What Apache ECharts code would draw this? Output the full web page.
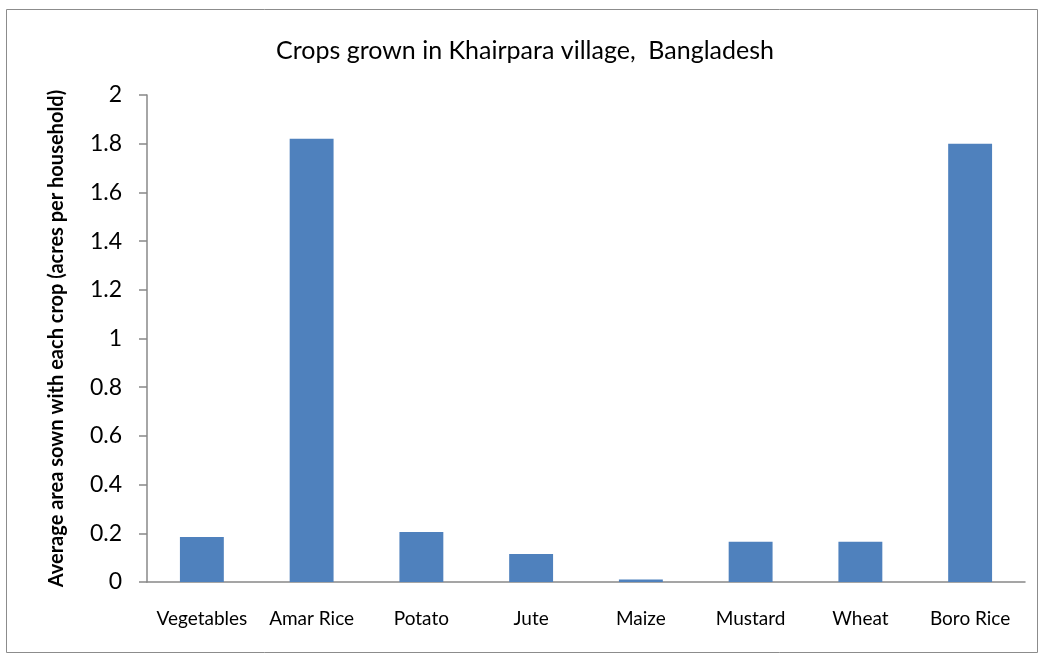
<!DOCTYPE html>
<html>
<head>
<meta charset="utf-8">
<script src="https://cdn.jsdelivr.net/npm/echarts@6/dist/echarts.min.js"></script>
<style>
  html, body { margin: 0; padding: 0; background: #fff; }
  #chart { width: 1042px; height: 657px; }
</style>
</head>
<body>
<div id="chart"></div>
<script>
// crops and average acres sown per household
const crops = ["Vegetables", "Amar Rice", "Potato", "Jute", "Maize", "Mustard", "Wheat", "Boro Rice"];
const acres = [0.185, 1.82, 0.205, 0.115, 0.01, 0.165, 0.165, 1.80];

const myChart = echarts.init(document.getElementById("chart"));
const font = "Lato, 'Open Sans', sans-serif";
let option = {
  animation: false,
  backgroundColor: "#fff",
  graphic: [
    {
      type: "rect",
      left: 4,
      top: 7,
      shape: { width: 1031, height: 643 },
      style: { fill: "none", stroke: "#8c8c8c", lineWidth: 1 }
    }
  ],
  title: {
    text: "Crops grown in Khairpara village,  Bangladesh",
    left: 520,
    top: 33,
    textAlign: "center",
    textStyle: { fontFamily: font, fontSize: 25, fontWeight: "normal", color: "#000" }
  },
  grid: { left: 147, right: 17, top: 95, bottom: 75 },
  xAxis: {
    type: "category",
    data: crops,
    axisLine: { lineStyle: { color: "#888", width: 1.5 } },
    axisTick: { length: 8, lineStyle: { color: "#888", width: 1.5 } },
    axisLabel: { interval: 0, margin: 27, fontFamily: font, fontSize: 19, color: "#000" }
  },
  yAxis: {
    type: "value",
    min: 0,
    max: 2,
    interval: 0.2,
    name: "Average area sown with each crop (acres per household)",
    nameLocation: "middle",
    nameGap: 80,
    nameTextStyle: { fontFamily: font, fontSize: 20, fontWeight: "bold", color: "#000" },
    axisLine: { show: true, lineStyle: { color: "#888", width: 1.5 } },
    axisTick: { show: true, length: 8, lineStyle: { color: "#888", width: 1.5 } },
    splitLine: { show: false },
    axisLabel: {
      margin: 25,
      fontFamily: font,
      fontSize: 23,
      color: "#000",
      formatter: v => String(Math.round(v * 10) / 10)
    }
  },
  series: [
    {
      type: "bar",
      data: acres,
      barCategoryGap: "60%",
      itemStyle: { color: "#4f81bd" }
    }
  ]
};
myChart.setOption(option);
</script>
</body>
</html>
